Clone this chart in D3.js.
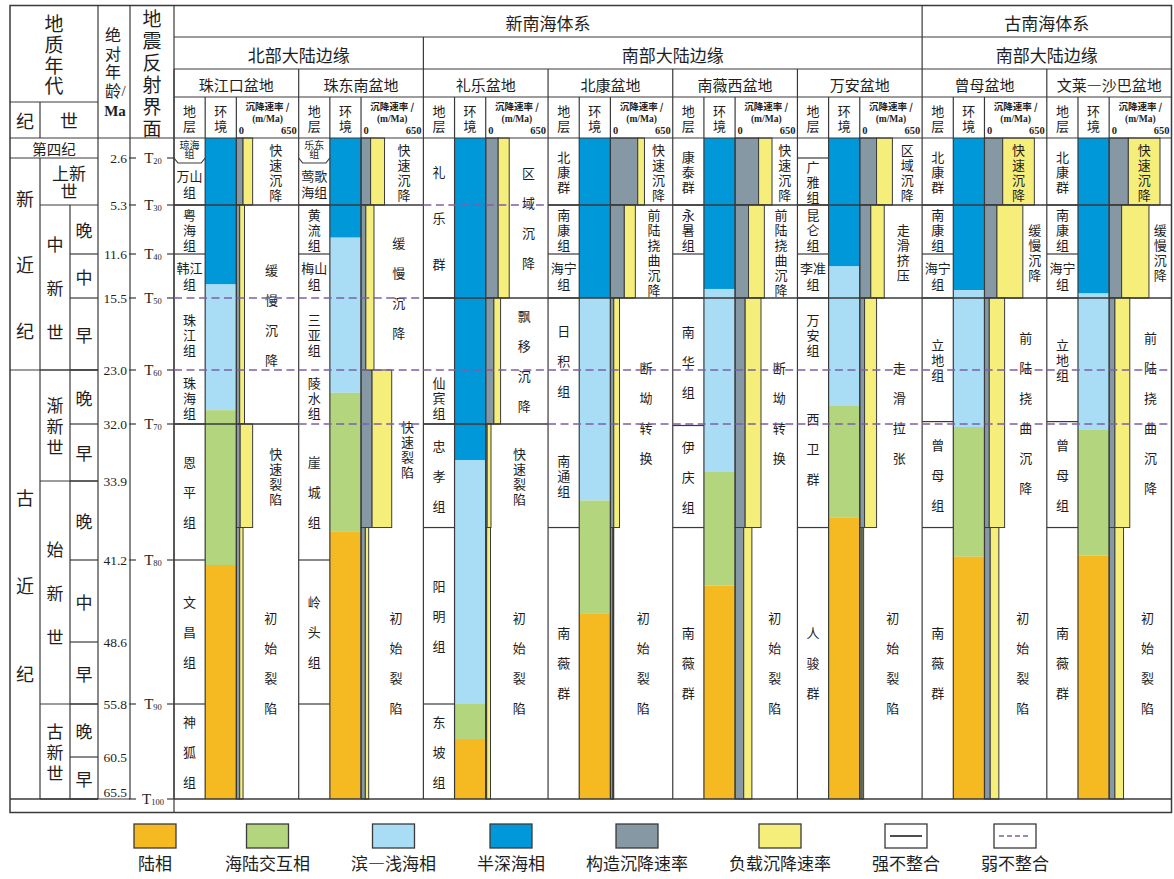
<!DOCTYPE html>
<html lang="zh">
<head>
<meta charset="utf-8">
<title>南海盆地构造沉降演化对比</title>
<script src="https://cdn.jsdelivr.net/npm/d3@7/dist/d3.min.js"></script>
<style>
  html, body { margin: 0; padding: 0; background: #fff; }
  svg { display: block; }
  text { font-family: "Noto Sans CJK SC", "Noto Sans CJK JP", sans-serif; fill: #1e1e1e; }
  text.num { font-family: "Liberation Serif", "DejaVu Serif", serif; }
  div.stk { margin: 0; padding: 0; text-align: center; word-break: break-all; color: #1e1e1e;
            font-family: "Noto Sans CJK SC", "Noto Sans CJK JP", sans-serif; overflow: visible; }
</style>
</head>
<body>
<svg id="chart" width="1174" height="879"></svg>
<script>
// ---------------- time scale (Ma) ----------------
const ageBounds = [0, 2.6, 5.3, 11.6, 15.5, 23.0, 32.0, 33.9, 41.2, 48.6, 55.8, 60.5, 65.5];
const ageLabels = ["2.6", "5.3", "11.6", "15.5", "23.0", "32.0", "33.9", "41.2", "48.6", "55.8", "60.5", "65.5"];
const reflectorAges = [2.6, 5.3, 11.6, 15.5, 23.0, 32.0, 41.2, 55.8, 65.5];
const reflectorNames = ["20", "30", "40", "50", "60", "70", "80", "90", "100"];

const periods = [["第四纪", 0, 2.6], ["新近纪", 2.6, 23], ["古近纪", 23, 65.5]];
const epochs = [["上新世", 2.6, 5.3], ["中新世", 5.3, 23], ["渐新世", 23, 33.9], ["始新世", 33.9, 55.8], ["古新世", 55.8, 65.5]];
const stages = [["晚", 5.3, 11.6], ["中", 11.6, 15.5], ["早", 15.5, 23], ["晚", 23, 32], ["早", 32, 33.9],
                ["晚", 33.9, 41.2], ["中", 41.2, 48.6], ["早", 48.6, 55.8], ["晚", 55.8, 60.5], ["早", 60.5, 65.5]];

// ---------------- basins ----------------
const basinNames = ["珠江口盆地", "珠东南盆地", "礼乐盆地", "北康盆地", "南薇西盆地", "万安盆地", "曾母盆地", "文莱—沙巴盆地"];
const systemGroups = [["新南海体系", 0, 6], ["古南海体系", 6, 8]];
const marginGroups = [["北部大陆边缘", 0, 2], ["南部大陆边缘", 2, 6], ["南部大陆边缘", 6, 8]];

// strata: [name, top age, base age]
const zjkStrata = [["琼海组", 0, 2.6], ["万山组", 2.6, 5.3], ["粤海组", 5.3, 11.6], ["韩江组", 11.6, 15.5], ["珠江组", 15.5, 23],
                   ["珠海组", 23, 32], ["恩平组", 32, 41.2], ["文昌组", 41.2, 55.8], ["神狐组", 55.8, 65.5]];
const zdnStrata = [["乐东组", 0, 2.6], ["莺歌海组", 2.6, 5.3], ["黄流组", 5.3, 11.6], ["梅山组", 11.6, 15.5], ["三亚组", 15.5, 23],
                   ["陵水组", 23, 32], ["崖城组", 32, 41.2], ["岭头组", 41.2, 55.8], ["", 55.8, 65.5]];
const lyStrata  = [["礼乐群", 0, 15.5], ["", 15.5, 23], ["仙宾组", 23, 32], ["忠孝组", 32, 38.2], ["阳明组", 38.2, 55.8], ["东坡组", 55.8, 65.5]];
const bkStrata  = [["北康群", 0, 5.3], ["南康组", 5.3, 11.6], ["海宁组", 11.6, 15.5], ["日积组", 15.5, 32], ["南通组", 32, 38.2], ["南薇群", 38.2, 65.5]];
const nwxStrata = [["康泰群", 0, 5.3], ["永暑组", 5.3, 11.6], ["", 11.6, 15.5], ["南华组", 15.5, 32.05], ["伊庆组", 32.05, 38.2], ["南薇群", 38.2, 65.5]];
const waStrata  = [["", 0, 2.6], ["广雅组", 2.6, 5.3], ["昆仑组", 5.3, 11.6], ["李准组", 11.6, 15.5], ["万安组", 15.5, 23],
                   ["西卫群", 23, 38.2], ["人骏群", 38.2, 65.5]];
const zmStrata  = [["北康群", 0, 5.3], ["南康组", 5.3, 11.6], ["海宁组", 11.6, 15.5], ["立地组", 15.5, 31.6], ["曾母组", 31.6, 38.2], ["南薇群", 38.2, 65.5]];
const wlStrata  = [["北康群", 0, 5.3], ["南康组", 5.3, 11.6], ["海宁组", 11.6, 15.5], ["立地组", 15.5, 31.6], ["曾母组", 31.6, 38.2], ["南薇群", 38.2, 65.5]];

// sedimentary environment: [facies, top age, base age]
const zjkFacies = [["bathyal", 0, 14.3], ["shallow", 14.3, 29.7], ["transition", 29.7, 41.65], ["land", 41.65, 65.5]];
const zdnFacies = [["bathyal", 0, 9.5], ["shallow", 9.5, 26.8], ["transition", 26.8, 38.6], ["land", 38.6, 65.5]];
const lyFacies  = [["bathyal", 0, 33.2], ["shallow", 33.2, 55.8], ["transition", 55.8, 58.9], ["land", 58.9, 65.5]];
const bkFacies  = [["bathyal", 0, 15.5], ["shallow", 15.5, 35.7], ["transition", 35.7, 46.0], ["land", 46.0, 65.5]];
const nwxFacies = [["bathyal", 0, 14.7], ["shallow", 14.7, 33.6], ["transition", 33.6, 43.5], ["land", 43.5, 65.5]];
const waFacies  = [["bathyal", 0, 12.7], ["shallow", 12.7, 29.0], ["transition", 29.0, 37.3], ["land", 37.3, 65.5]];
const zmFacies  = [["bathyal", 0, 14.8], ["shallow", 14.8, 32.1], ["transition", 32.1, 40.9], ["land", 40.9, 65.5]];
const wlFacies  = [["bathyal", 0, 15.1], ["shallow", 15.1, 32.2], ["transition", 32.2, 40.8], ["land", 40.8, 65.5]];

// subsidence rate (m/Ma): [top age, base age, tectonic, load, stage]
const zjkRates = [[0, 5.3, 70, 100, "快速沉降"], [5.3, 32, 35, 50, "缓慢沉降"], [32, 38.2, 40, 130, "快速裂陷"], [38.2, 65.5, 35, 35, "初始裂陷"]];
const zdnRates = [[0, 5.3, 100, 145, "快速沉降"], [5.3, 23, 50, 85, "缓慢沉降"], [23, 38.2, 115, 205, "快速裂陷"], [38.2, 65.5, 45, 35, "初始裂陷"]];
const lyRates  = [[0, 15.5, 130, 115, "区域沉降"], [15.5, 32, 85, 70, "飘移沉降"], [32, 38.2, 15, 40, "快速裂陷"], [38.2, 65.5, 10, 40, "初始裂陷"]];
const bkRates  = [[0, 5.3, 285, 70, "快速沉降"], [5.3, 15.5, 145, 115, "前陆挠曲沉降"], [15.5, 38.2, 35, 60, "断坳转换"], [38.2, 65.5, 25, 10, "初始裂陷"]];
const nwxRates = [[0, 5.3, 245, 140, "快速沉降"], [5.3, 15.5, 140, 165, "前陆挠曲沉降"], [15.5, 38.2, 105, 165, "断坳转换"], [38.2, 65.5, 90, 85, "初始裂陷"]];
const waRates  = [[0, 5.3, 175, 165, "区域沉降"], [5.3, 15.5, 115, 140, "走滑挤压"], [15.5, 38.2, 50, 125, "走滑拉张"], [38.2, 65.5, 25, 15, "初始裂陷"]];
const zmRates  = [[0, 5.3, 190, 330, "快速沉降"], [5.3, 15.5, 130, 270, "缓慢沉降"], [15.5, 38.2, 50, 160, "前陆挠曲沉降"], [38.2, 65.5, 60, 90, "初始裂陷"]];
const wlRates  = [[0, 5.3, 200, 330, "快速沉降"], [5.3, 15.5, 130, 285, "缓慢沉降"], [15.5, 38.2, 60, 155, "前陆挠曲沉降"], [38.2, 65.5, 60, 90, "初始裂陷"]];

// unconformities (Ma)
const zjkStrong = [5.3, 32],   zjkWeak = [15.5, 23];
const zdnStrong = [5.3],       zdnWeak = [15.5, 23, 32];
const lyStrong  = [15.5, 32],  lyWeak  = [5.3, 23];
const bkStrong  = [5.3, 15.5], bkWeak  = [23, 32];
const nwxStrong = [5.3, 15.5], nwxWeak = [23, 32];
const waStrong  = [5.3, 15.5], waWeak  = [23, 32];
const zmStrong  = [5.3, 15.5], zmWeak  = [23, 32];
const wlStrong  = [5.3, 15.5], wlWeak  = [23, 32];

const rateMax = 650;

const faciesNames = ["land", "transition", "shallow", "bathyal"];
const legendLabels = ["陆相", "海陆交互相", "滨—浅海相", "半深海相", "构造沉降速率", "负载沉降速率", "强不整合", "弱不整合"];

// ---------------- assembled basin table ----------------
const basins = [
  { name: basinNames[0], strata: zjkStrata, facies: zjkFacies, rates: zjkRates, strong: zjkStrong, weak: zjkWeak },
  { name: basinNames[1], strata: zdnStrata, facies: zdnFacies, rates: zdnRates, strong: zdnStrong, weak: zdnWeak },
  { name: basinNames[2], strata: lyStrata,  facies: lyFacies,  rates: lyRates,  strong: lyStrong,  weak: lyWeak },
  { name: basinNames[3], strata: bkStrata,  facies: bkFacies,  rates: bkRates,  strong: bkStrong,  weak: bkWeak },
  { name: basinNames[4], strata: nwxStrata, facies: nwxFacies, rates: nwxRates, strong: nwxStrong, weak: nwxWeak },
  { name: basinNames[5], strata: waStrata,  facies: waFacies,  rates: waRates,  strong: waStrong,  weak: waWeak },
  { name: basinNames[6], strata: zmStrata,  facies: zmFacies,  rates: zmRates,  strong: zmStrong,  weak: zmWeak },
  { name: basinNames[7], strata: wlStrata,  facies: wlFacies,  rates: wlRates,  strong: wlStrong,  weak: wlWeak }
];

// ---------------- styling & layout ----------------
const INK = "#3a3a3a";
const DASH = "#7d5fa6";
const faciesColor = d3.scaleOrdinal().domain(faciesNames).range(["#F5BA22", "#B3D57E", "#A9DDF6", "#0098D9"]);
const tectColor = "#8598A4", loadColor = "#F6EE7B";

const frame = { l: 10, r: 1171.5, t: 5.5, b: 812.5 };
const colPeriod = [10, 40], colEpoch = [40, 70], colStage = [70, 98], colAge = [98, 130], colRefl = [130, 174];
const headRows = [5.5, 37, 69, 97, 138];
const leftHeadSplit = 102;
const timeRows = [138, 158, 205, 254, 298, 370, 424, 481, 560, 642, 704, 757, 799];

const chevronBase = new Set(["琼海组", "乐东组"]);
const strataStep = { "礼乐群": 46, "南通组": 15, "立地组": 15 };
const tightRate = new Set(["快速裂陷"]);

const y = d3.scaleLinear().domain(ageBounds).range(timeRows);
const xb = d3.scaleBand().domain(basinNames).range([174, frame.r]);
const bw = xb.bandwidth();
const sub = { strat: [0, bw * 0.25], env: [bw * 0.25, bw * 0.5], rate: [bw * 0.5, bw] };

const svg = d3.select("#chart");
const gFill = svg.append("g");
const gBar = svg.append("g");
const gLine = svg.append("g");
const gText = svg.append("g");
const gDash = svg.append("g");

function line(g, x1, y1, x2, y2, w = 1.2, color = INK) {
  return g.append("line").attr("x1", x1).attr("y1", y1).attr("x2", x2).attr("y2", y2)
    .attr("stroke", color).attr("stroke-width", w);
}
// stacked CJK label: one text block that wraps every `perLine` characters, `step` px per line
function stack(g, text, cx, cy, step, size, perLine = 1) {
  const n = Array.from(text).length;
  const lines = Math.ceil(n / perLine);
  const w = perLine * size + 1, h = lines * step;
  const fo = g.append("foreignObject")
    .attr("x", cx - w / 2).attr("y", cy - h / 2).attr("width", w).attr("height", h)
    .style("overflow", "visible");
  fo.append("xhtml:div").attr("class", "stk")
    .style("width", w + "px").style("font-size", size + "px").style("line-height", step + "px")
    .text(text);
}
function label(g, text, cx, cy, size, opts = {}) {
  return g.append("text").attr("class", opts.cls || null).attr("x", cx).attr("y", cy)
    .attr("text-anchor", opts.anchor || "middle").attr("dominant-baseline", "central")
    .style("font-size", size + "px").style("font-weight", opts.weight || null).text(text);
}

// ---------------- header ----------------
systemGroups.forEach(([name, a, b]) => {
  const x0 = xb(basinNames[a]), x1 = b < basinNames.length ? xb(basinNames[b]) : frame.r;
  label(gText, name, (x0 + x1) / 2, (headRows[0] + headRows[1]) / 2 + 1, 17);
  if (a > 0) line(gLine, x0, headRows[0], x0, headRows[1]);
});
marginGroups.forEach(([name, a, b]) => {
  const x0 = xb(basinNames[a]), x1 = b < basinNames.length ? xb(basinNames[b]) : frame.r;
  label(gText, name, (x0 + x1) / 2, (headRows[1] + headRows[2]) / 2 + 1, 17);
  if (a > 0) line(gLine, x0, headRows[1], x0, headRows[2]);
});
basinNames.forEach(name => {
  const x0 = xb(name);
  label(gText, name, x0 + bw / 2, (headRows[2] + headRows[3]) / 2 + 1, 15);
  line(gLine, x0, headRows[2], x0, timeRows[timeRows.length - 1]);
  const g = gText.append("g").attr("transform", `translate(${x0},0)`);
  stack(g, "地层", (sub.strat[0] + sub.strat[1]) / 2, 117.5, 15, 13);
  stack(g, "环境", (sub.env[0] + sub.env[1]) / 2, 117.5, 15, 13);
  const rc = (sub.rate[0] + sub.rate[1]) / 2;
  label(g, "沉降速率 /", rc, 106, 9.5, { weight: 700 });
  label(g, "(m/Ma)", rc, 118.5, 9.5, { cls: "num", weight: 700 });
  label(g, "0", sub.rate[0] + 2.5, 130.5, 10.5, { cls: "num", weight: 700, anchor: "start" });
  label(g, String(rateMax), sub.rate[1] - 2, 130.5, 10.5, { cls: "num", weight: 700, anchor: "end" });
  line(gLine, x0 + sub.env[0], headRows[3], x0 + sub.env[0], timeRows[timeRows.length - 1]);
  line(gLine, x0 + sub.rate[0], headRows[3], x0 + sub.rate[0], timeRows[timeRows.length - 1]);
});
[headRows[1], headRows[2], headRows[3]].forEach(yy => line(gLine, colRefl[1], yy, frame.r, yy));
line(gLine, frame.l, headRows[4], frame.r, headRows[4]);
line(gLine, frame.l, leftHeadSplit, colAge[0], leftHeadSplit);

// left header texts
stack(gText, "地质年代", (colPeriod[0] + colStage[1]) / 2, (frame.t + leftHeadSplit) / 2 + 1, 20.7, 19);
label(gText, "纪", (colPeriod[0] + colPeriod[1]) / 2, (leftHeadSplit + headRows[4]) / 2, 18);
label(gText, "世", (colEpoch[0] + colStage[1]) / 2, (leftHeadSplit + headRows[4]) / 2, 18);
stack(gText, "绝对年龄", (colAge[0] + colAge[1]) / 2 - 1, 62, 18.5, 16);
label(gText, "/", colAge[1] - 6.5, 90.5, 15, { cls: "num" });
label(gText, "Ma", (colAge[0] + colAge[1]) / 2 + 1, 111, 15, { cls: "num", weight: 700 });
stack(gText, "地震反射界面", (colRefl[0] + colRefl[1]) / 2, (frame.t + headRows[4]) / 2 + 1, 22, 19);

// ---------------- geological time columns ----------------
periods.forEach(([name, a, b], i) => {
  const y0 = y(a), y1 = y(b);
  if (i === 0) {
    label(gText, name, (colPeriod[0] + colStage[1]) / 2, (y0 + y1) / 2, 14.5);
  } else {
    stack(gText, name, (colPeriod[0] + colPeriod[1]) / 2, (y0 + y1) / 2, Math.min(88, (y1 - y0) / 3.2), 18);
  }
  line(gLine, colPeriod[0], y1, colStage[1], y1);
});
epochs.forEach(([name, a, b], i) => {
  const y0 = y(a), y1 = y(b), h = y1 - y0;
  if (i === 0) {
    stack(gText, name, (colEpoch[0] + colStage[1]) / 2, (y0 + y1) / 2, 18, 17, 2);
  } else {
    stack(gText, name, (colEpoch[0] + colEpoch[1]) / 2, (y0 + y1) / 2, h >= 150 ? 44 : 21, 17);
  }
  line(gLine, colEpoch[0], y1, colStage[1], y1);
});
stages.forEach(([name, a, b]) => {
  label(gText, name, (colStage[0] + colStage[1]) / 2, (y(a) + y(b)) / 2, 17);
  line(gLine, colStage[0], y(b), colStage[1], y(b));
});
line(gLine, colEpoch[0], leftHeadSplit, colEpoch[0], headRows[4]);
line(gLine, colEpoch[0], y(2.6), colEpoch[0], y(65.5));
line(gLine, colStage[0], y(5.3), colStage[0], y(65.5));
line(gLine, colAge[0], frame.t, colAge[0], y(65.5));
line(gLine, colAge[1], frame.t, colAge[1], y(65.5));
line(gLine, colPeriod[0], y(65.5), colAge[1], y(65.5));

// absolute ages
ageLabels.forEach(lab => {
  const yy = Math.min(y(+lab), y(65.5) - 7);
  label(gText, lab, colAge[1] - 3, yy, 13.5, { cls: "num", anchor: "end" });
});
// seismic reflectors
reflectorAges.forEach((a, i) => {
  const yy = y(a);
  line(gLine, colAge[1] - 1, yy, colAge[1] + 6, yy);
  line(gLine, colRefl[1] - 7, yy, colRefl[1], yy);
  const t = label(gText, "T", (colRefl[0] + colRefl[1]) / 2 + 1, yy, 15, { cls: "num" });
  t.append("tspan").attr("dy", 3).style("font-size", "8.5px").text(reflectorNames[i]);
});

// ---------------- basin columns ----------------
basins.forEach(b => {
  const x0 = xb(b.name);
  const gf = gFill.append("g").attr("transform", `translate(${x0},0)`);
  const gb = gBar.append("g").attr("transform", `translate(${x0},0)`);
  const gl = gLine.append("g").attr("transform", `translate(${x0},0)`);
  const gt = gText.append("g").attr("transform", `translate(${x0},0)`);
  const xr = d3.scaleLinear().domain([0, rateMax]).range(sub.rate);

  // environment
  gf.selectAll("rect").data(b.facies).join("rect")
    .attr("x", sub.env[0]).attr("width", sub.env[1] - sub.env[0])
    .attr("y", d => y(d[1])).attr("height", d => y(d[2]) - y(d[1]))
    .attr("fill", d => faciesColor(d[0]));

  // subsidence bars: tectonic, then load stacked on it
  gb.selectAll("rect.tect").data(b.rates).join("rect").attr("class", "tect")
    .attr("x", xr(0)).attr("width", d => xr(d[2]) - xr(0))
    .attr("y", d => y(d[0])).attr("height", d => y(d[1]) - y(d[0]))
    .attr("fill", tectColor).attr("stroke", INK).attr("stroke-width", 1);
  gb.selectAll("rect.load").data(b.rates).join("rect").attr("class", "load")
    .attr("x", d => xr(d[2])).attr("width", d => xr(d[2] + d[3]) - xr(d[2]))
    .attr("y", d => y(d[0])).attr("height", d => y(d[1]) - y(d[0]))
    .attr("fill", loadColor).attr("stroke", INK).attr("stroke-width", 1);

  b.rates.forEach(d => {
    const [a0, a1, t, l, stage] = d;
    const y0 = y(a0), y1 = y(a1), h = y1 - y0;
    let xl = xr(t + l), xrr = sub.rate[1];
    if (xrr - xl < 16) { xl = xr(t); xrr = xr(t + l); }
    const step = (h >= 120 && !tightRate.has(stage)) ? 30 : 15;
    stack(gt, stage, (xl + xrr) / 2, (y0 + y1) / 2, step, 13);
  });

  // strata
  const sc = (sub.strat[0] + sub.strat[1]) / 2;
  b.strata.forEach((s, i) => {
    const [name, a0, a1] = s;
    let y0 = y(a0);
    const y1 = y(a1);
    if (i > 0 && chevronBase.has(b.strata[i - 1][0])) y0 += 5;
    if (chevronBase.has(name)) {
      gl.append("path")
        .attr("d", `M${sub.strat[0]},${y1}L${sub.strat[0] + 4},${y1 + 5}L${sub.strat[1] - 4},${y1 + 5}L${sub.strat[1]},${y1}`)
        .attr("fill", "none").attr("stroke", INK).attr("stroke-width", 1.2);
    } else if (i < b.strata.length - 1 && !b.weak.includes(a1)) {
      line(gl, sub.strat[0], y1, sub.strat[1], y1);
    }
    if (!name) return;
    const n = Array.from(name).length, h = y1 - y0, cy = (y0 + y1) / 2;
    if (h < 26) {
      stack(gt, name, sc, cy + 1, 9.5, 10, 2);
    } else if (h / n < 15) {
      stack(gt, name, sc, cy, 16, 13, 2);
    } else {
      const step = strataStep[name] ?? (h >= 90 ? 30 : 15);
      stack(gt, name, sc, cy, step, 13);
    }
  });

  // unconformities
  b.strong.forEach(a => line(gl, 0, y(a), bw, y(a), 1.3));
  b.weak.forEach(a => line(gDash, x0, y(a), x0 + bw, y(a), 1.6, DASH).attr("stroke-dasharray", "8,4.5"));
});

// bottom of the time columns and outer frame
line(gLine, colRefl[1], y(65.5), frame.r, y(65.5), 1.3);
line(gLine, colRefl[1], frame.t, colRefl[1], frame.b);
gLine.append("rect").attr("x", frame.l).attr("y", frame.t).attr("width", frame.r - frame.l).attr("height", frame.b - frame.t)
  .attr("fill", "none").attr("stroke", INK).attr("stroke-width", 1.5);

// ---------------- legend ----------------
const gLeg = svg.append("g");
const legendFills = [faciesColor("land"), faciesColor("transition"), faciesColor("shallow"), faciesColor("bathyal"), tectColor, loadColor, "#fff", "#fff"];
const legendTexts = legendLabels.map(t => label(gLeg, t, 0, 862, 17));
let cursor = 138;
legendTexts.forEach((t, i) => {
  const w = t.node().getComputedTextLength();
  const cx = cursor + w / 2;
  t.attr("x", cx);
  gLeg.append("rect").attr("x", cx - 21).attr("y", 824).attr("width", 42).attr("height", 24)
    .attr("fill", legendFills[i]).attr("stroke", INK).attr("stroke-width", 1.3);
  if (i === 6) line(gLeg, cx - 16, 836, cx + 16, 836, 1.8);
  if (i === 7) line(gLeg, cx - 16, 836, cx + 16, 836, 1.6, DASH).attr("stroke-dasharray", "5,3");
  cursor += w + (i === 0 ? 53 : 41);
});
</script>
</body>
</html>
